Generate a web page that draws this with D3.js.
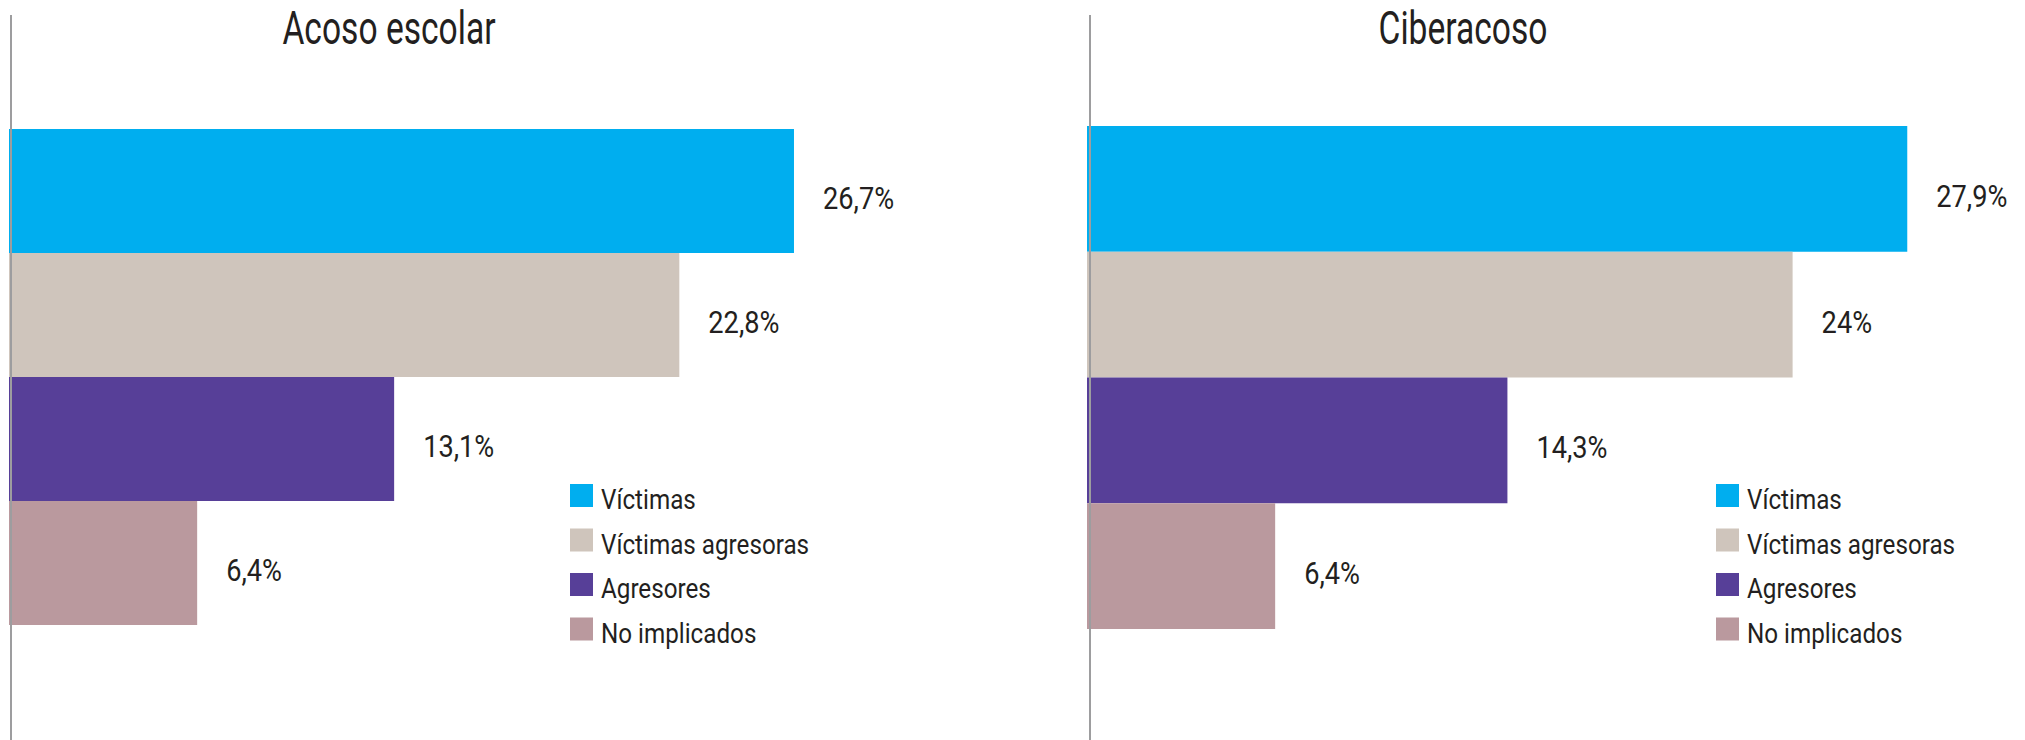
<!DOCTYPE html>
<html>
<head>
<meta charset="utf-8">
<script src="https://cdn.jsdelivr.net/npm/d3@7"></script>
<style>
  html, body { margin: 0; padding: 0; background: #ffffff; }
  svg { display: block; }
  text { font-family: Roboto, "Liberation Sans", sans-serif; font-weight: 400; fill: #231f20; }
</style>
</head>
<body>
<svg id="chart" width="2025" height="740"></svg>
<script>
// ---- Data ----
const categories = ["Víctimas", "Víctimas agresoras", "Agresores", "No implicados"];
const colors = ["#00aeef", "#cfc5bc", "#573f98", "#ba999e"];
const panelTitles = ["Acoso escolar", "Ciberacoso"];
const acosoEscolarValues = [26.7, 22.8, 13.1, 6.4];
const ciberacosoValues = [27.9, 24, 14.3, 6.4];

// ---- Layout ----
const svg = d3.select("#chart");
const W = 2025, H = 740;
const panels = [
  { title: panelTitles[0], values: acosoEscolarValues, axisX: 11, barX0: 9, top: 129, bottom: 625, titleX: 389, legendX: 570 },
  { title: panelTitles[1], values: ciberacosoValues, axisX: 1090, barX0: 1087, top: 126, bottom: 629, titleX: 1463, legendX: 1716 }
];

const x = d3.scaleLinear().domain([0, 30]).range([0, 882]);
const color = d3.scaleOrdinal().domain(categories).range(colors);
const fmt = v => String(v).replace(".", ",") + "%";
const TITLE_SX = 0.73, TEXT_SX = 0.85;

panels.forEach(p => {
  const g = svg.append("g");
  const y = d3.scaleBand().domain(categories).range([p.top, p.bottom]).paddingInner(0).paddingOuter(0);

  // title
  g.append("text")
    .attr("transform", `translate(${p.titleX},44) scale(${TITLE_SX},1)`)
    .attr("text-anchor", "middle")
    .style("font-size", "46px")
    .text(p.title);

  // bars
  g.selectAll("rect.bar").data(categories).enter().append("rect")
    .attr("class", "bar")
    .attr("x", p.barX0)
    .attr("y", d => y(d))
    .attr("width", (d, i) => x(p.values[i]))
    .attr("height", y.bandwidth())
    .attr("fill", d => color(d));

  // value labels
  g.selectAll("text.val").data(categories).enter().append("text")
    .attr("class", "val")
    .attr("transform", (d, i) => `translate(${p.barX0 + x(p.values[i]) + 29},${y(d) + y.bandwidth() / 2 + 18}) scale(${TEXT_SX},1)`)
    .style("font-size", "32px")
    .text((d, i) => fmt(p.values[i]));

  // axis line
  g.append("line")
    .attr("x1", p.axisX).attr("x2", p.axisX)
    .attr("y1", 15).attr("y2", H)
    .attr("stroke", "#9d9d9f").attr("stroke-width", 2);

  // legend
  const lg = g.append("g").attr("transform", `translate(${p.legendX},484)`);
  const rows = lg.selectAll("g").data(categories).enter().append("g")
    .attr("transform", (d, i) => `translate(0,${i * 44.5})`);
  rows.append("rect").attr("width", 23).attr("height", 23).attr("fill", d => color(d));
  rows.append("text")
    .attr("transform", `translate(31,25) scale(${TEXT_SX},1)`)
    .style("font-size", "28.5px").text(d => d);
});
</script>
</body>
</html>
